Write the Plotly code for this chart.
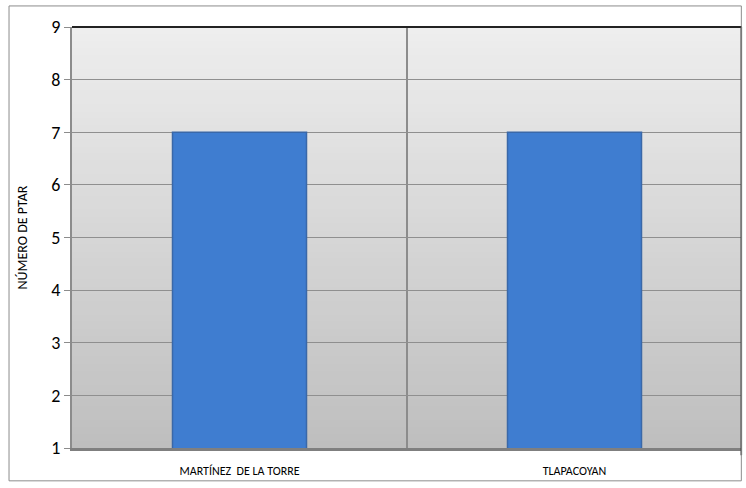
import plotly.graph_objects as go

categories = ["MARTÍNEZ  DE LA TORRE", "TLAPACOYAN"]
values = [7, 7]
y_ticks = [1, 2, 3, 4, 5, 6, 7, 8, 9]
y_title = "NÚMERO DE PTAR"

FONT = "Calibri, Carlito, 'Open Sans', sans-serif"

fig = go.Figure()
fig.add_trace(go.Bar(
    x=categories, y=values, width=0.4,
    marker=dict(color="#3f7dd0", line=dict(color="#3a68a8", width=1.5)),
    hoverinfo="skip",
))

shapes = []
# gradient background
n = 60
top = (238, 238, 238)
bot = (190, 190, 190)
for i in range(n):
    t = (i + 0.5) / n
    c = tuple(int(round(bot[k] + (top[k] - bot[k]) * t)) for k in range(3))
    shapes.append(dict(type="rect", xref="paper", yref="paper",
                       x0=0, x1=1, y0=i / n, y1=(i + 1) / n + 0.002,
                       fillcolor="rgb(%d,%d,%d)" % c, line=dict(width=0), layer="below"))
# category separator
shapes.append(dict(type="line", xref="x", yref="paper", x0=0.5, x1=0.5, y0=0, y1=1,
                   line=dict(color="#8c8c8c", width=2), layer="between"))
# top border
shapes.append(dict(type="line", xref="paper", yref="paper", x0=0, x1=1, y0=1, y1=1,
                   line=dict(color="#222222", width=2), layer="above"))
# right border
shapes.append(dict(type="line", xref="paper", yref="paper", x0=0.999, x1=0.999, y0=-0.017, y1=1,
                   line=dict(color="#222222", width=1.5), layer="above"))
# outer border
shapes.append(dict(type="rect", xref="paper", yref="paper",
                   x0=-0.094, x1=0.999, y0=-0.078, y1=1.05,
                   line=dict(color="#8c8c8c", width=1), fillcolor="rgba(0,0,0,0)", layer="above"))

fig.update_layout(
    width=746, height=488,
    margin=dict(l=72, r=4, t=27, b=40, autoexpand=False),
    paper_bgcolor="white", plot_bgcolor="#d6d6d6",
    showlegend=False,
    bargap=0.6,
    shapes=shapes,
    font=dict(family=FONT, color="#000000"),
    xaxis=dict(
        type="category", showgrid=False, showline=True, linecolor="#7f7f7f", linewidth=3,
        ticks="", tickfont=dict(size=12, family=FONT), ticklabelstandoff=10, automargin=False,
    ),
    yaxis=dict(
        range=[1, 9], tickvals=y_ticks, showgrid=True, gridcolor="#8f8f8f", gridwidth=1,
        showline=True, linecolor="#8c8c8c", linewidth=2, ticks="outside", ticklen=6,
        tickcolor="#8c8c8c", tickfont=dict(size=18, family=FONT), zeroline=False,
        automargin=False,
        title=dict(text=y_title, font=dict(size=14, family=FONT), standoff=20),
    ),
)

fig.write_html("out.html", config={"displayModeBar": False},
               post_script="document.body.style.margin='0';")
